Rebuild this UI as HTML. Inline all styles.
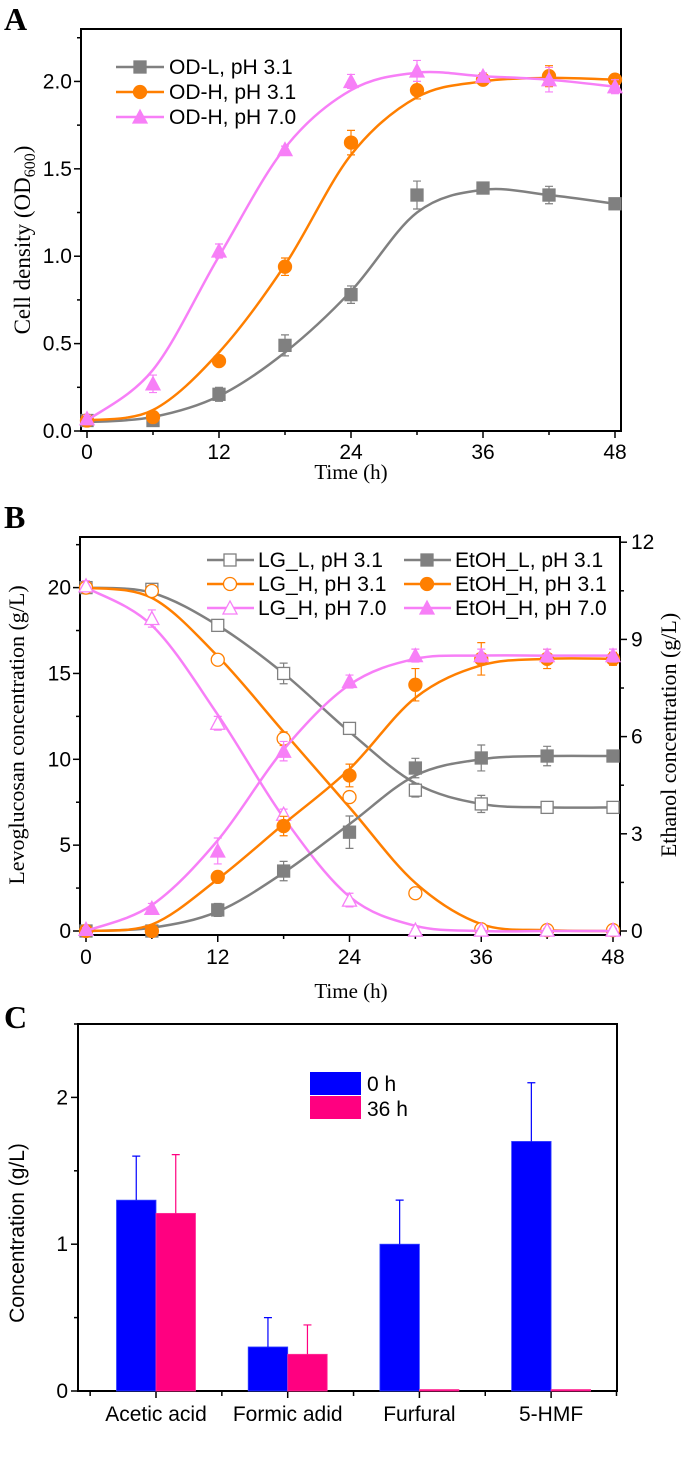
<!DOCTYPE html>
<html><head><meta charset="utf-8">
<style>
html,body{margin:0;padding:0;background:#fff;}
svg{display:block;}
.tk{font-family:"Liberation Sans",Arial,sans-serif;font-size:21px;fill:#000;}
.ser{font-family:"Liberation Serif",serif;fill:#000;}
</style></head>
<body>
<svg id="fig" width="685" height="1471" viewBox="0 0 685 1471" xmlns="http://www.w3.org/2000/svg">
<text class="ser" x="4" y="30" font-size="32" font-weight="bold">A</text>
<text class="ser" x="4" y="528" font-size="32" font-weight="bold">B</text>
<text class="ser" x="4" y="1028" font-size="32" font-weight="bold">C</text>
<text class="ser" x="351" y="479" font-size="21" text-anchor="middle">Time (h)</text>
<text class="ser" x="351" y="998" font-size="21" text-anchor="middle">Time (h)</text>
<text class="ser" font-size="23" text-anchor="middle" transform="translate(30,240) rotate(-90)">Cell density (OD<tspan font-size="16" dy="5">600</tspan><tspan dy="-5">)</tspan></text>
<text class="ser" font-size="22" text-anchor="middle" transform="translate(24,735) rotate(-90)">Levoglucosan concentration (g/L)</text>
<text class="ser" font-size="22" text-anchor="middle" transform="translate(676,735) rotate(-90)">Ethanol concentration (g/L)</text>
<text class="tk" font-size="20" text-anchor="middle" transform="translate(24,1233) rotate(-90)">Concentration (g/L)</text>
<g id="A"></g><g id="B"></g><g id="C"></g>
</svg>
<script>
// ---- Panel A data ----
const timesA = [0,6,12,18,24,30,36,42,48];
const odL = [0.06,0.06,0.21,0.49,0.78,1.35,1.39,1.35,1.30];
const odLerr = [0.03,0.02,0.04,0.06,0.05,0.08,0.02,0.05,0.02];
const odLfit = [0.05,0.08,0.20,0.45,0.80,1.25,1.38,1.35,1.30];
const odH31 = [0.06,0.08,0.40,0.94,1.65,1.95,2.01,2.03,2.01];
const odH31err = [0.02,0.02,0.02,0.05,0.07,0.05,0.03,0.06,0.03];
const odH31fit = [0.06,0.12,0.45,0.95,1.58,1.91,2.00,2.02,2.01];
const odH70 = [0.07,0.27,1.03,1.61,2.00,2.06,2.03,2.01,1.97];
const odH70err = [0.02,0.05,0.04,0.02,0.04,0.06,0.02,0.07,0.04];
const odH70fit = [0.06,0.35,1.00,1.62,1.95,2.05,2.03,2.01,1.97];
const xTicksA = [0,12,24,36,48];
const yTicksA = ["0.0","0.5","1.0","1.5","2.0"];
// ---- Panel B data ----
const lgL = [20,19.9,17.8,15.0,11.8,8.2,7.4,7.2,7.2];
const lgLerr = [0.3,0.2,0.3,0.6,0.3,0.4,0.5,0.3,0.2];
const lgLfit = [20,19.7,17.8,15.0,11.6,8.6,7.4,7.2,7.2];
const lgH31 = [20,19.8,15.8,11.2,7.8,2.2,0.1,0.05,0.05];
const lgH31err = [0.3,0.3,0.1,0.4,0.3,0.3,0.2,0.1,0.1];
const lgH31fit = [20,19.4,16.0,11.6,7.2,2.8,0.4,0.05,0];
const lgH70 = [20.1,18.2,12.1,6.8,1.8,0.05,0.05,0.05,0.05];
const lgH70err = [0.3,0.5,0.4,0.3,0.4,0.1,0.1,0.1,0.1];
const lgH70fit = [20,17.8,12.6,6.6,2.0,0.3,0,0,0];
const etL = [0,0,0.65,1.85,3.05,5.03,5.34,5.4,5.4];
const etLerr = [0.05,0.05,0.2,0.3,0.5,0.3,0.4,0.3,0.1];
const etLfit = [0,0.1,0.6,1.8,3.3,4.8,5.3,5.4,5.4];
const etH31 = [0,0,1.67,3.24,4.8,7.6,8.4,8.4,8.4];
const etH31err = [0.05,0.05,0.1,0.3,0.35,0.5,0.5,0.3,0.2];
const etH31fit = [0,0.2,1.6,3.3,5.0,7.2,8.2,8.4,8.4];
const etH70 = [0.05,0.7,2.47,5.55,7.7,8.5,8.5,8.5,8.5];
const etH70err = [0.05,0.15,0.4,0.3,0.2,0.2,0.2,0.2,0.2];
const etH70fit = [0,0.8,2.8,5.6,7.6,8.4,8.5,8.5,8.5];
const yTicksBL = [0,5,10,15,20];
const yTicksBR = [0,3,6,9,12];
// ---- Panel C data ----
const catsC = ["Acetic acid","Formic adid","Furfural","5-HMF"];
const val0h = [1.3,0.3,1.0,1.7];
const err0h = [0.3,0.2,0.3,0.4];
const val36h = [1.21,0.25,0.01,0.01];
const err36h = [0.4,0.2,0,0];
const yTicksC = [0,1,2];

const NS="http://www.w3.org/2000/svg";
function mk(parent,tag,attrs,text){const e=document.createElementNS(NS,tag);for(const k in attrs)e.setAttribute(k,attrs[k]);if(text!==undefined)e.textContent=text;parent.appendChild(e);return e;}
function crPath(pts){let d=`M${pts[0][0]},${pts[0][1]}`;for(let i=0;i<pts.length-1;i++){const p0=pts[Math.max(0,i-1)],p1=pts[i],p2=pts[i+1],p3=pts[Math.min(pts.length-1,i+2)];const c1=[p1[0]+(p2[0]-p0[0])/6,p1[1]+(p2[1]-p0[1])/6],c2=[p2[0]-(p3[0]-p1[0])/6,p2[1]-(p3[1]-p1[1])/6];d+=` C${c1[0]},${c1[1]} ${c2[0]},${c2[1]} ${p2[0]},${p2[1]}`;}return d;}
function marker(g,shape,x,y,col,filled,s){s=s||6;const f=filled?col:"#fff";let e;
 if(shape==="sq")e=mk(g,"rect",{x:x-s,y:y-s,width:2*s,height:2*s,fill:f,stroke:col,"stroke-width":1.3});
 else if(shape==="ci")e=mk(g,"circle",{cx:x,cy:y,r:s+0.5,fill:f,stroke:col,"stroke-width":1.3});
 else e=mk(g,"polygon",{points:`${x},${y-s-1} ${x-s-1},${y+s} ${x+s+1},${y+s}`,fill:f,stroke:col,"stroke-width":1.3});
 return e;}
function series(g,name,xs,vals,errs,fit,xf,yf,col,shape,filled){
 const sg=mk(g,"g",{});
 
 
 mk(sg,"path",{d:crPath(xs.map((t,i)=>[xf(t),yf(fit[i])])),fill:"none",stroke:col,"stroke-width":2.5});
 xs.forEach((t,i)=>{const x=xf(t),y1=yf(vals[i]+errs[i]),y2=yf(vals[i]-errs[i]);
  mk(sg,"path",{d:`M${x},${y1}V${y2}M${x-4},${y1}H${x+4}M${x-4},${y2}H${x+4}`,stroke:col,"stroke-width":1.2,fill:"none"});
  const m=marker(sg,shape,x,yf(vals[i]),col,filled);
  
  });
}
function frame(g,l,t,r,b){mk(g,"rect",{x:l,y:t,width:r-l,height:b-t,fill:"none",stroke:"#000","stroke-width":2});}

// ---------- Panel A ----------
(function(){
 const g=document.getElementById('A');
 const L=81,R=621,T=29,B=431,x0=87,x1=615,ymax=2.3;
 const xf=t=>x0+(x1-x0)*t/48, yf=v=>B-(B-T)*v/ymax;
 frame(g,L,T,R,B);
 for(let t=0;t<=48;t+=6){const x=xf(t);mk(g,"line",{x1:x,x2:x,y1:B,y2:B+(t%12===0?7:4),stroke:"#000","stroke-width":1.5});}
 xTicksA.forEach(t=>{const e=mk(g,"text",{x:xf(t),y:B+28,"text-anchor":"middle",class:"tk"},String(t));});
 for(let v=0;v<=2.25;v+=0.25){const y=yf(v);mk(g,"line",{x1:L,x2:L-(Math.abs(v*2-Math.round(v*2))<0.01?7:4),y1:y,y2:y,stroke:"#000","stroke-width":1.5});}
 yTicksA.forEach(s=>{const e=mk(g,"text",{x:L-9,y:yf(parseFloat(s))+7,"text-anchor":"end",class:"tk"},s);});
 series(g,'od-l-ph31',timesA,odL,odLerr,odLfit,xf,yf,"#808080","sq",true);
 series(g,'od-h-ph31',timesA,odH31,odH31err,odH31fit,xf,yf,"#ff7f00","ci",true);
 series(g,'od-h-ph70',timesA,odH70,odH70err,odH70fit,xf,yf,"#f77ff7","tr",true);
 const leg=[["OD-L, pH 3.1","#808080","sq"],["OD-H, pH 3.1","#ff7f00","ci"],["OD-H, pH 7.0","#f77ff7","tr"]];
 leg.forEach((l,i)=>{const y=67+25*i;const lg=mk(g,"g",{});
  
  
  mk(lg,"line",{x1:116,x2:164,y1:y,y2:y,stroke:l[1],"stroke-width":2.5});marker(lg,l[2],140,y,l[1],true);
  mk(lg,"text",{x:169,y:y+7,class:"tk"},l[0]);});
})();

// ---------- Panel B ----------
(function(){
 const g=document.getElementById('B');
 const L=80,R=620,T=537,B=935,x0=86,x1=613,zeroY=931;
 const xf=t=>x0+(x1-x0)*t/48, yl=v=>zeroY-17.17*v, yr=v=>zeroY-32.4*v;
 frame(g,L,T,R,B);
 for(let t=0;t<=48;t+=6){const x=xf(t);mk(g,"line",{x1:x,x2:x,y1:B,y2:B+(t%12===0?7:4),stroke:"#000","stroke-width":1.5});}
 xTicksA.forEach(t=>{const e=mk(g,"text",{x:xf(t),y:B+29,"text-anchor":"middle",class:"tk"},String(t));});
 for(let v=0;v<=22.5;v+=2.5){const y=yl(v);mk(g,"line",{x1:L,x2:L-(v%5===0?7:4),y1:y,y2:y,stroke:"#000","stroke-width":1.5});}
 yTicksBL.forEach(v=>{const e=mk(g,"text",{x:L-9,y:yl(v)+7,"text-anchor":"end",class:"tk"},String(v));});
 for(let v=0;v<=12;v+=1.5){const y=yr(v);mk(g,"line",{x1:R,x2:R+(v%3===0?7:4),y1:y,y2:y,stroke:"#000","stroke-width":1.5});}
 yTicksBR.forEach(v=>{const e=mk(g,"text",{x:R+11,y:yr(v)+7,class:"tk"},String(v));});
 series(g,'lg-l-ph31',timesA,lgL,lgLerr,lgLfit,xf,yl,"#808080","sq",false);
 series(g,'lg-h-ph31',timesA,lgH31,lgH31err,lgH31fit,xf,yl,"#ff7f00","ci",false);
 series(g,'lg-h-ph70',timesA,lgH70,lgH70err,lgH70fit,xf,yl,"#f77ff7","tr",false);
 series(g,'etoh-l-ph31',timesA,etL,etLerr,etLfit,xf,yr,"#808080","sq",true);
 series(g,'etoh-h-ph31',timesA,etH31,etH31err,etH31fit,xf,yr,"#ff7f00","ci",true);
 series(g,'etoh-h-ph70',timesA,etH70,etH70err,etH70fit,xf,yr,"#f77ff7","tr",true);
 const leg=[["LG_L, pH 3.1","#808080","sq",false,0,0],["LG_H, pH 3.1","#ff7f00","ci",false,0,1],["LG_H, pH 7.0","#f77ff7","tr",false,0,2],
  ["EtOH_L, pH 3.1","#808080","sq",true,1,0],["EtOH_H, pH 3.1","#ff7f00","ci",true,1,1],["EtOH_H, pH 7.0","#f77ff7","tr",true,1,2]];
 leg.forEach(l=>{const y=560+24*l[5];const x=l[4]?404:207;const lg=mk(g,"g",{});
  
  
  mk(lg,"line",{x1:x,x2:x+47,y1:y,y2:y,stroke:l[1],"stroke-width":2.5});marker(lg,l[2],x+23,y,l[1],l[3]);
  mk(lg,"text",{x:x+51,y:y+7,class:"tk"},l[0]);});
})();

// ---------- Panel C ----------
(function(){
 const g=document.getElementById('C');
 const L=78,R=617,T=1024,B=1391,ymax=2.5,c0=156,step=131.7,bw=39.5;
 const yf=v=>B-(B-T)*v/ymax, cx=i=>c0+step*i;
 frame(g,L,T,R,B);
 for(let v=0;v<=2.5;v+=0.5){const y=yf(v);mk(g,"line",{x1:L,x2:L-(v%1===0?7:4),y1:y,y2:y,stroke:"#000","stroke-width":1.5});}
 yTicksC.forEach(v=>{const e=mk(g,"text",{x:L-10,y:yf(v)+7,"text-anchor":"end",class:"tk"},String(v));});
 catsC.forEach((c,i)=>{const x=cx(i);
  mk(g,"line",{x1:x,x2:x,y1:B,y2:B+7,stroke:"#000","stroke-width":1.5});
  mk(g,"line",{x1:x-step/2,x2:x-step/2,y1:B,y2:B+5,stroke:"#000","stroke-width":1.5});
  const t=mk(g,"text",{x:x,y:B+30,"text-anchor":"middle",class:"tk","font-size":20},c);
  
  
  const b0=mk(g,"rect",{x:x-bw,y:yf(val0h[i]),width:bw,height:B-yf(val0h[i]),fill:"#0000ff",stroke:"#3344ff","stroke-width":0.8});
  
  
  const b1=mk(g,"rect",{x:x,y:yf(val36h[i]),width:bw,height:B-yf(val36h[i]),fill:"#ff0080",stroke:"#ff3399","stroke-width":0.8});
  
  
  if(err0h[i]>0){const ex=x-bw/2,ya=yf(val0h[i]),yb=yf(val0h[i]+err0h[i]);mk(g,"path",{d:`M${ex},${ya}V${yb}M${ex-4},${yb}H${ex+4}`,stroke:"#0000ff","stroke-width":1.2,fill:"none"});}
  if(err36h[i]>0){const ex=x+bw/2,ya=yf(val36h[i]),yb=yf(val36h[i]+err36h[i]);mk(g,"path",{d:`M${ex},${ya}V${yb}M${ex-4},${yb}H${ex+4}`,stroke:"#ff0080","stroke-width":1.2,fill:"none"});}
 });
 mk(g,"line",{x1:R-0.5,x2:R-0.5,y1:B,y2:B+5,stroke:"#000","stroke-width":1.5});
 const lg1=mk(g,"g",{});
 
 
 mk(lg1,"rect",{x:310,y:1072,width:51,height:23,fill:"#0000ff"});
 mk(lg1,"text",{x:367,y:1091,class:"tk","font-size":20},"0 h");
 const lg2=mk(g,"g",{});
 
 
 mk(lg2,"rect",{x:310,y:1096,width:51,height:23,fill:"#ff0080"});
 mk(lg2,"text",{x:367,y:1116,class:"tk","font-size":20},"36 h");
})();
</script>
</body></html>
